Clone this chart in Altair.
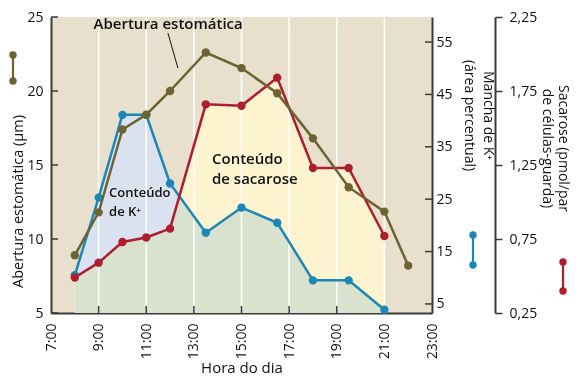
import altair as alt
import pandas as pd

# ---- data ----
hours_ap = [8, 9, 10, 11, 12, 13.5, 15, 16.5, 18, 19.5, 21, 22]
aperture = [8.9, 11.8, 17.4, 18.4, 20.0, 22.6, 21.55, 19.85, 16.8, 13.5, 11.85, 8.2]
hours_k = [8, 9, 10, 11, 12, 13.5, 15, 16.5, 18, 19.5, 21]
k_stain = [10.5, 25.3, 41.1, 41.1, 28.0, 18.6, 23.4, 20.5, 9.5, 9.5, 3.9]
hours_suc = [8, 9, 10, 11, 12, 13.5, 15, 16.5, 18, 19.5, 21]
sucrose = [0.49, 0.59, 0.73, 0.76, 0.82, 1.66, 1.65, 1.84, 1.23, 1.23, 0.77]

x_ticks = [7, 9, 11, 13, 15, 17, 19, 21, 23]
grid_hours = [9, 11, 13, 15, 17, 19, 21]
ap_ticks = [5, 10, 15, 20, 25]
k_ticks = [5, 15, 25, 35, 45, 55]
suc_ticks = [0.25, 0.75, 1.25, 1.75, 2.25]

# ---- style ----
F = "Open Sans"
W, H = 381, 296
BG = "#e8e0cc"
BROWN = "#6c6232"
BLUE = "#1b87b4"
RED = "#ac1d2f"
DARK = "#3a3a3a"
TXT = "#111111"

ap_df = pd.DataFrame({"h": hours_ap, "ap": aperture})
k_df = pd.DataFrame({"h": hours_k, "k": k_stain})
s_df = pd.DataFrame({"h": hours_suc, "s": sucrose})
grid_df = pd.DataFrame({"h": grid_hours})
one = pd.DataFrame({"a": [0]})

x_axis = alt.Axis(values=x_ticks, labelExpr="datum.value + ':00'", labelAngle=270,
                  tickSize=0, labelPadding=10, domainColor=DARK, domainWidth=2,
                  labelFontSize=14, labelColor=TXT, labelFlush=False, labelOverlap=False,
                  grid=False, title="Hora do dia", titleFontSize=15,
                  titleFontWeight="normal", titleColor=TXT, titleY=54,
                  titleBaseline="middle")
X = alt.X("h:Q", scale=alt.Scale(domain=[7, 23], nice=False, zero=False), axis=x_axis)

ys_ap = alt.Scale(domain=[5, 25], nice=False, zero=False)
ys_k = alt.Scale(domain=[3.27, 59.78], nice=False, zero=False)
ys_s = alt.Scale(domain=[0.25, 2.25], nice=False, zero=False)

ap_axis = alt.Axis(orient="left", values=ap_ticks, tickSize=0, labelPadding=8,
                   domainColor=DARK, domainWidth=2, labelFontSize=14, labelColor=TXT,
                   grid=False, title="Abertura estomática (µm)", titleFontSize=14.5,
                   titleFontWeight="normal", titleColor=TXT, titleAngle=270,
                   titleX=-33, titleY=184, titleAlign="center", titleBaseline="middle")
k_axis = alt.Axis(orient="right", values=k_ticks, tickSize=0, labelPadding=4,
                  domainColor=DARK, domainWidth=2, labelFontSize=14, labelColor=TXT,
                  grid=False, title=["Mancha de K⁺", "(área percentual)"],
                  titleFontSize=14, titleFontWeight="normal", titleColor=TXT,
                  titleAngle=90, titleX=55, titleY=98, titleAlign="center",
                  titleBaseline="middle", titleLineHeight=19)
s_axis = alt.Axis(orient="right", offset=63, values=suc_ticks, tickSize=7, tickWidth=1.5,
                  tickColor=DARK, labelPadding=7, domainColor=DARK, domainWidth=2,
                  labelFontSize=14, labelColor=TXT, grid=False,
                  labelExpr="replace(format(datum.value, '.2f'), '.', ',')",
                  title=["Sacarose (pmol/par", "de células-guarda)"],
                  titleFontSize=14, titleFontWeight="normal", titleColor=TXT,
                  titleAngle=90, titleX=67, titleY=131, titleAlign="center",
                  titleBaseline="middle", titleLineHeight=16)

Yk0 = alt.Y("k:Q", scale=ys_k, axis=None, stack=None)
Ys0 = alt.Y("s:Q", scale=ys_s, axis=None, stack=None)
Yap0 = alt.Y("ap:Q", scale=ys_ap, axis=None)
BASE = alt.value(H)

k_white = alt.Chart(k_df).mark_area(color="white", opacity=1).encode(x=X, y=Yk0, y2=BASE)
s_white = alt.Chart(s_df).mark_area(color="white", opacity=1).encode(x=X, y=Ys0, y2=BASE)
k_fill = alt.Chart(k_df).mark_area(color="#d9e2ee", opacity=1, blend="darken").encode(x=X, y=Yk0, y2=BASE)
s_fill = alt.Chart(s_df).mark_area(color="#fdf3cf", opacity=1, blend="darken").encode(x=X, y=Ys0, y2=BASE)

grid = alt.Chart(grid_df).mark_rule(color="white", strokeWidth=1.5).encode(
    x=X, y=alt.value(0), y2=alt.value(H))
x_in = alt.Chart(grid_df).mark_rule(color=DARK, strokeWidth=1.5).encode(
    x=X, y=alt.value(H - 7), y2=alt.value(H))
ap_in = alt.Chart(pd.DataFrame({"ap": ap_ticks})).mark_rule(color=DARK, strokeWidth=1.5).encode(
    y=Yap0, x=alt.value(0), x2=alt.value(7))
k_in = alt.Chart(pd.DataFrame({"k": k_ticks})).mark_rule(color=DARK, strokeWidth=1.5).encode(
    y=alt.Y("k:Q", scale=ys_k, axis=None), x=alt.value(W - 7), x2=alt.value(W))

def line(df, field, scale, axis, color):
    return alt.Chart(df).mark_line(
        color=color, strokeWidth=2.5,
        point=alt.OverlayMarkDef(color=color, size=70, filled=True, opacity=1)
    ).encode(x=X, y=alt.Y(f"{field}:Q", scale=scale, axis=axis))

k_line = line(k_df, "k", ys_k, k_axis, BLUE)
s_line = line(s_df, "s", ys_s, s_axis, RED)
ap_line = line(ap_df, "ap", ys_ap, ap_axis, BROWN)

ann_center = alt.Chart(pd.DataFrame({"h": [11.92], "ap": [24.53], "t": ["Abertura estomática"]})).mark_text(
    fontSize=15, fontWeight=600, color=TXT, align="center", baseline="middle").encode(
    x=X, y=Yap0, text="t:N")
ann_suc = alt.Chart(pd.DataFrame({"h": [13.76], "ap": [15.41], "t": ["Conteúdo\nde sacarose"]})).mark_text(
    fontSize=15, fontWeight=600, color=TXT, align="left", baseline="middle", lineBreak="\n",
    lineHeight=20).encode(x=X, y=Yap0, text="t:N")
ann_k = alt.Chart(pd.DataFrame({"h": [9.44], "ap": [13.11], "t": ["Conteúdo\nde K⁺"]})).mark_text(
    fontSize=13, fontWeight=600, color=TXT, align="left", baseline="middle", lineBreak="\n",
    lineHeight=19).encode(x=X, y=Yap0, text="t:N")
leader = alt.Chart(pd.DataFrame({"h": [11.91], "h2": [12.33], "ap": [23.92], "ap2": [21.55]})).mark_rule(
    color=TXT, strokeWidth=1).encode(x=X, x2="h2:Q", y=Yap0, y2="ap2:Q")

def glyph(xp, y1, y2, color):
    r = alt.Chart(one).mark_rule(color=color, strokeWidth=2.2).encode(
        x=alt.value(xp), y=alt.value(y1), y2=alt.value(y2))
    c1 = alt.Chart(one).mark_circle(color=color, size=55, opacity=1).encode(
        x=alt.value(xp), y=alt.value(y1))
    c2 = alt.Chart(one).mark_circle(color=color, size=55, opacity=1).encode(
        x=alt.value(xp), y=alt.value(y2))
    return [r, c1, c2]

glyphs = glyph(-38, 38, 64, BROWN) + glyph(422, 218, 248, BLUE) + glyph(512, 245, 274, RED)

chart = alt.layer(
    k_white, s_white, k_fill, s_fill, grid, x_in, ap_in, k_in,
    k_line, s_line, ap_line, ann_center, ann_suc, ann_k, leader, *glyphs
).resolve_scale(y="independent").properties(
    width=W, height=H,
    padding={"left": 43, "top": 9, "right": 141, "bottom": 64},
    autosize=alt.AutoSizeParams(type="none"),
).configure(font=F).configure_view(fill=BG, strokeWidth=0)

chart.save("out.html", embed_options={"renderer": "svg", "actions": False})
